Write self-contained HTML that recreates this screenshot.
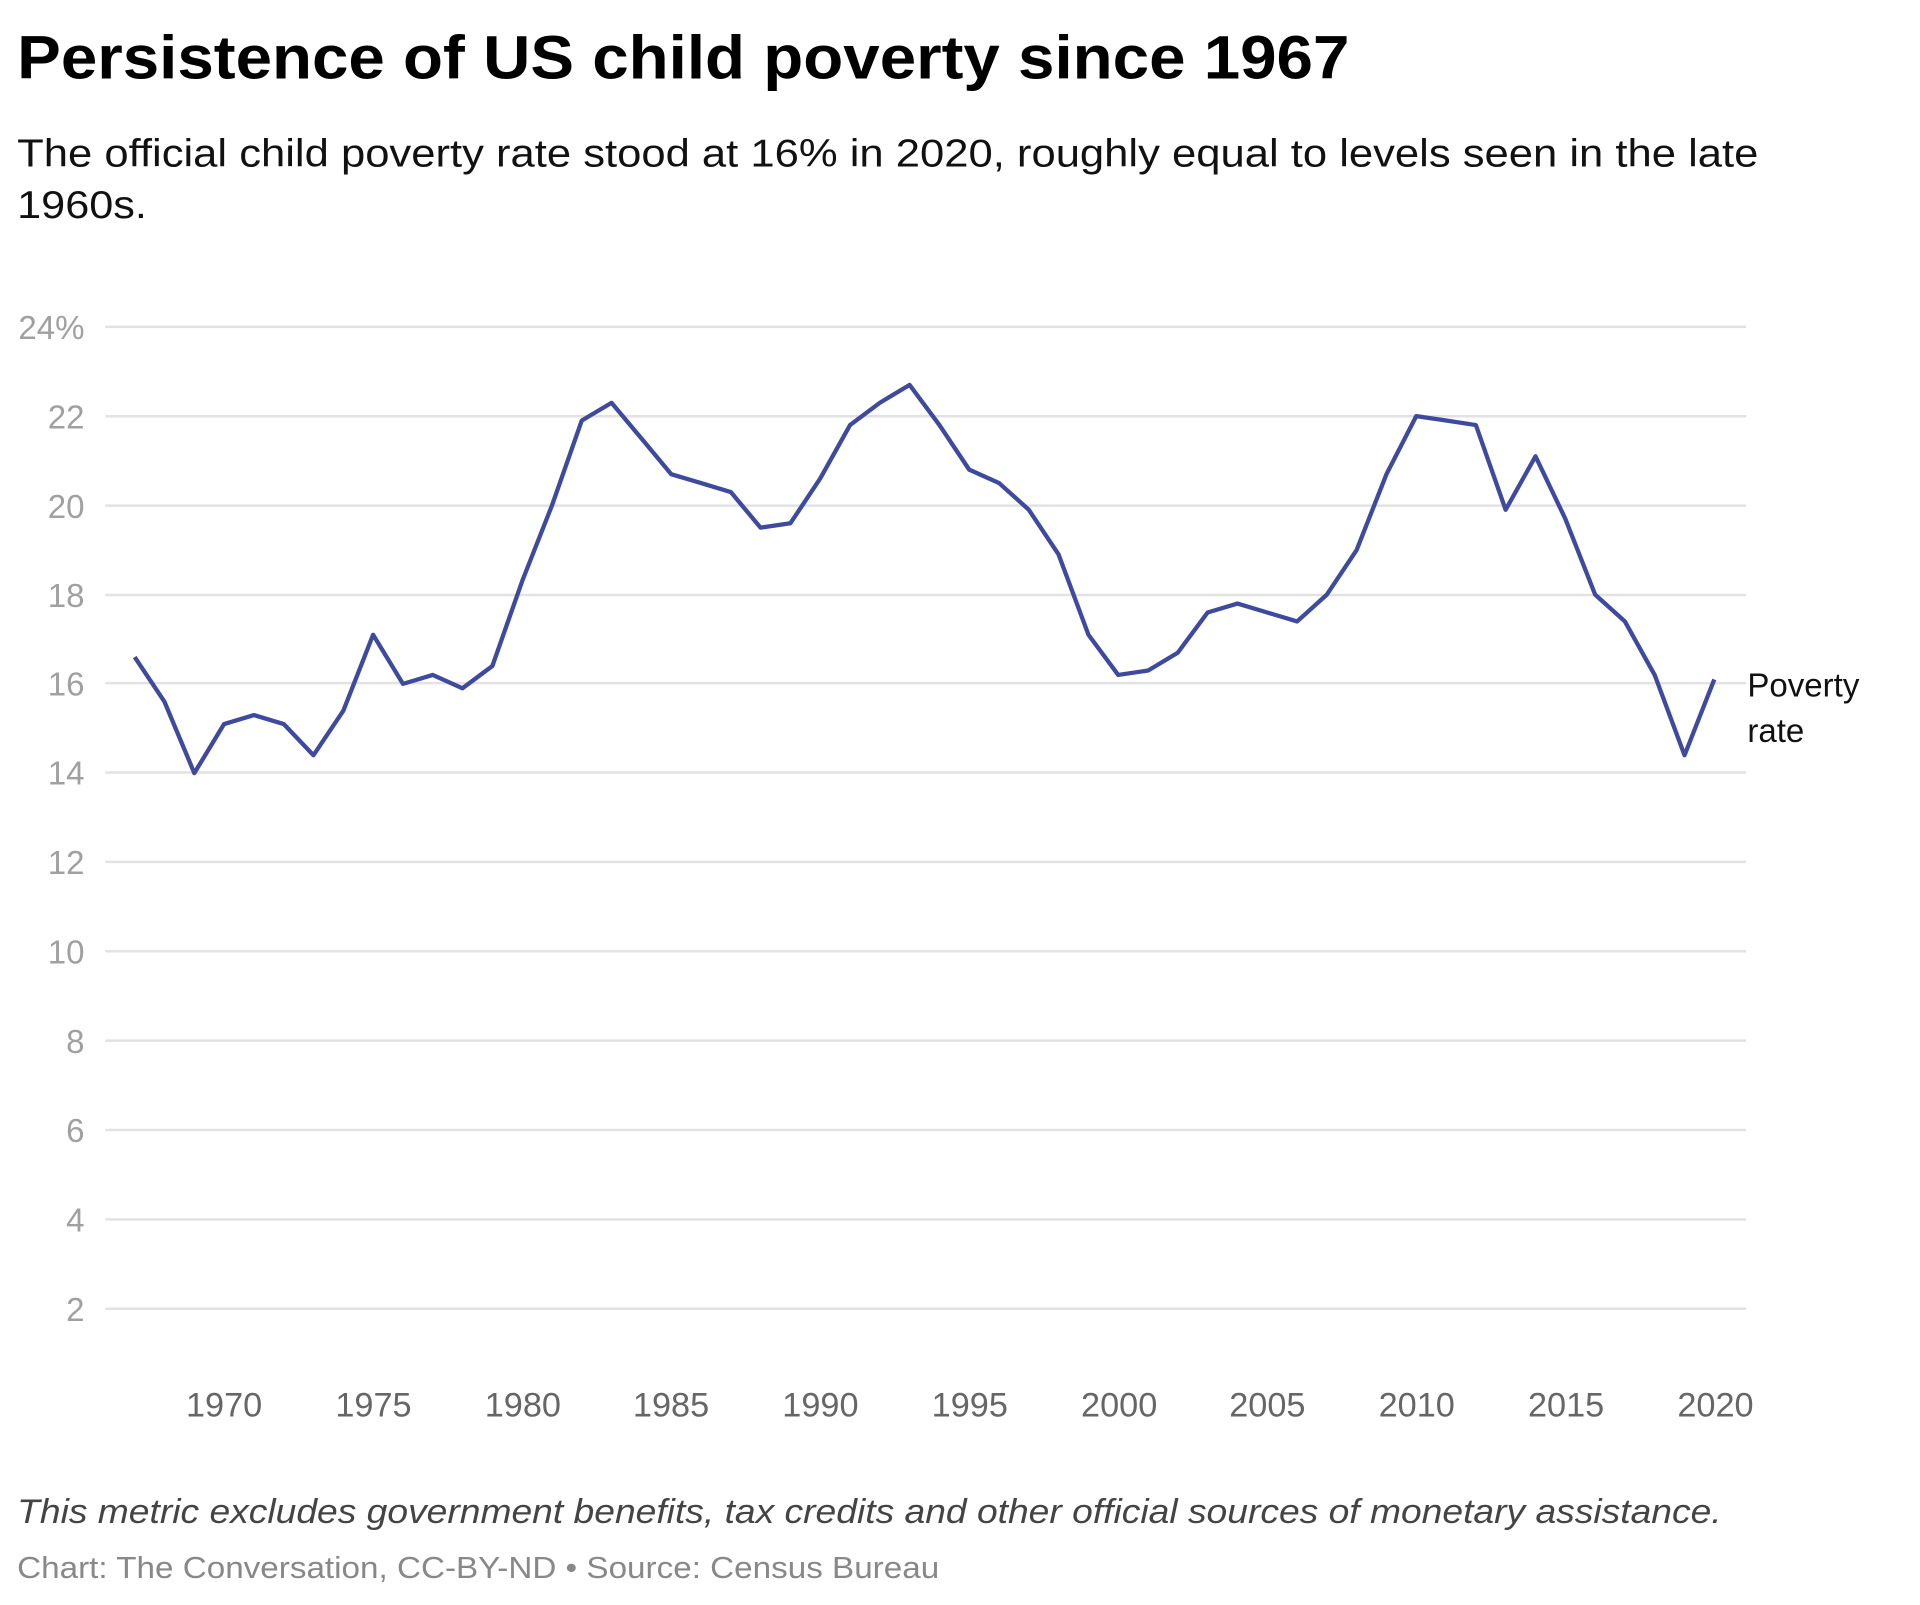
<!DOCTYPE html>
<html><head><meta charset="utf-8"><style>
html,body{margin:0;padding:0;background:#fff;width:1920px;height:1605px;overflow:hidden}
svg{display:block}
text{font-family:"Liberation Sans",sans-serif}
</style></head><body>
<svg width="1920" height="1605" viewBox="0 0 1568 1311" preserveAspectRatio="none">
<text x="14" y="64" font-size="50" font-weight="bold" fill="#000" textLength="1088" lengthAdjust="spacingAndGlyphs">Persistence of US child poverty since 1967</text>
<text x="14" y="136" font-size="32" fill="#111" textLength="1422" lengthAdjust="spacingAndGlyphs">The official child poverty rate stood at 16% in 2020, roughly equal to levels seen in the late</text>
<text x="14" y="178" font-size="32" fill="#111" textLength="106" lengthAdjust="spacingAndGlyphs">1960s.</text>
<g stroke="#e2e2e2" stroke-width="2">
<line x1="86" x2="1426" y1="267" y2="267"/><line x1="86" x2="1426" y1="340" y2="340"/>
<line x1="86" x2="1426" y1="413" y2="413"/><line x1="86" x2="1426" y1="486" y2="486"/>
<line x1="86" x2="1426" y1="558" y2="558"/><line x1="86" x2="1426" y1="631" y2="631"/>
<line x1="86" x2="1426" y1="704" y2="704"/><line x1="86" x2="1426" y1="777" y2="777"/>
<line x1="86" x2="1426" y1="850" y2="850"/><line x1="86" x2="1426" y1="923" y2="923"/>
<line x1="86" x2="1426" y1="996" y2="996"/><line x1="86" x2="1426" y1="1069" y2="1069"/>
</g>
<g font-size="27" fill="#a0a0a0" text-anchor="end">
<text x="69" y="277">24%</text><text x="69" y="350">22</text><text x="69" y="423">20</text>
<text x="69" y="496">18</text><text x="69" y="568">16</text><text x="69" y="641">14</text>
<text x="69" y="714">12</text><text x="69" y="787">10</text><text x="69" y="860">8</text>
<text x="69" y="933">6</text><text x="69" y="1006">4</text><text x="69" y="1079">2</text>
</g>
<g font-size="28" fill="#666" text-anchor="middle">
<text x="183" y="1157">1970</text><text x="305" y="1157">1975</text><text x="427" y="1157">1980</text>
<text x="548" y="1157">1985</text><text x="670" y="1157">1990</text><text x="792" y="1157">1995</text>
<text x="914" y="1157">2000</text><text x="1035" y="1157">2005</text><text x="1157" y="1157">2010</text>
<text x="1279" y="1157">2015</text><text x="1401" y="1157">2020</text>
</g>
<polyline fill="none" stroke="#3d4a9e" stroke-width="3.5" stroke-linejoin="round" points="110,536.7 134.3,573.2 158.7,631.5 183,591.4 207.4,584.1 231.7,591.4 256,616.9 280.4,580.5 304.7,518.5 329.1,558.6 353.4,551.3 377.7,562.2 402.1,544 426.4,474.8 450.8,412.8 475.1,343.5 499.4,329 523.8,358.1 548.1,387.3 572.5,394.6 596.8,401.9 621.1,431 645.5,427.4 669.8,390.9 694.2,347.2 718.5,329 742.8,314.4 767.2,347.2 791.5,383.6 815.9,394.6 840.2,416.4 864.5,452.9 888.9,518.5 913.2,551.3 937.6,547.7 961.9,533.1 986.2,500.3 1010.6,493 1034.9,500.3 1059.3,507.6 1083.6,485.7 1107.9,449.3 1132.3,387.3 1156.6,339.9 1181,343.5 1205.3,347.2 1229.6,416.4 1254,372.7 1278.3,423.7 1302.7,485.7 1327,507.6 1351.3,551.3 1375.7,616.9 1400,555"/>
<text x="1427" y="569" font-size="27" fill="#111">Poverty</text>
<text x="1427" y="606" font-size="27" fill="#111">rate</text>
<text x="14" y="1244" font-size="28" font-style="italic" fill="#444" textLength="1392" lengthAdjust="spacingAndGlyphs">This metric excludes government benefits, tax credits and other official sources of monetary assistance.</text>
<text x="14" y="1289" font-size="25" fill="#888" textLength="753" lengthAdjust="spacingAndGlyphs">Chart: The Conversation, CC-BY-ND • Source: Census Bureau</text>
</svg>
</body></html>
